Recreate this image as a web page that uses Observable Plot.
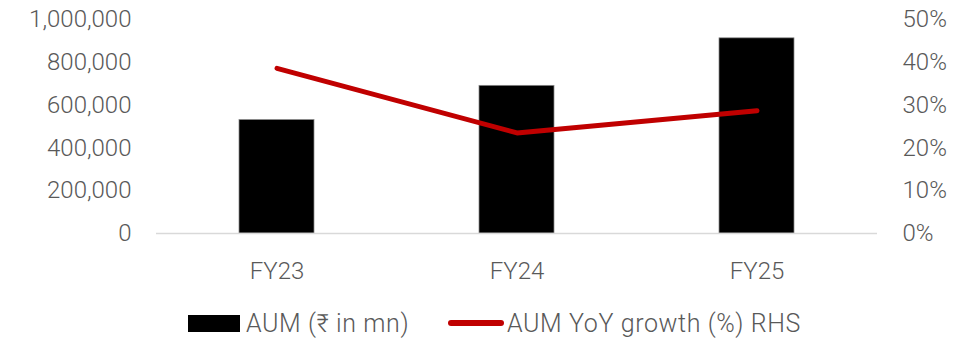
<!DOCTYPE html>
<html>
<head>
<meta charset="utf-8">
<script src="https://cdn.jsdelivr.net/npm/d3@7"></script>
<script src="https://cdn.jsdelivr.net/npm/@observablehq/plot@0.6"></script>
<style>
  html, body { margin: 0; padding: 0; background: #fff; }
  body { width: 977px; height: 339px; overflow: hidden; font-family: Roboto, sans-serif; font-weight: 300; color: #595959; }
  #legend { position: absolute; left: 0; top: 308px; width: 977px; height: 30px; font-size: 25px; letter-spacing: 0.6px; }
  .item { position: absolute; top: 0; display: flex; align-items: center; height: 30px; white-space: nowrap; }
  .sw-bar { width: 52px; height: 17px; background: #000; margin-right: 6px; }
  .sw-line { width: 56px; height: 6px; background: #C00000; border-radius: 3px; margin-right: 3px; }
</style>
</head>
<body>
<div id="chart"></div>
<div id="legend">
  <div class="item" style="left:188px"><span class="sw-bar"></span><span id="l1"></span></div>
  <div class="item" style="left:448px"><span class="sw-line"></span><span id="l2"></span></div>
</div>
<script>
const categories = ["FY23", "FY24", "FY25"];
const aum = [530000, 690000, 912000];
const growth = [38.6, 23.5, 28.7];
const leftTicks = [0, 200000, 400000, 600000, 800000, 1000000];
const rightTicks = [0, 10, 20, 30, 40, 50];
const seriesNames = ["AUM (₹ in mn)", "AUM YoY growth (%) RHS"];

const data = categories.map((c, i) => ({cat: c, aum: aum[i], growth: growth[i]}));
const ratio = 1000000 / 50; // right axis percent -> left axis units

document.getElementById("l1").textContent = seriesNames[0];
document.getElementById("l2").textContent = seriesNames[1];

const textColor = "#595959";
const chart = Plot.plot({
  width: 977,
  height: 300,
  marginTop: 19,
  marginBottom: 67,
  marginLeft: 156,
  marginRight: 100,
  style: {fontFamily: "Roboto, sans-serif", fontWeight: 300, fontSize: "24px", color: textColor, background: "#fff"},
  x: {domain: categories, paddingInner: 0.6875, paddingOuter: 0.344, label: null},
  y: {domain: [0, 1000000], label: null},
  marks: [
    Plot.axisY({anchor: "left", ticks: leftTicks, tickSize: 0, tickPadding: 25, tickFormat: d3.format(","), label: null, fill: textColor}),
    Plot.axisY({anchor: "right", ticks: rightTicks.map(t => t * ratio), tickSize: 0, tickPadding: 25, tickFormat: d => Math.round(d / ratio) + "%", label: null, fill: textColor, textAnchor: "start"}),
    Plot.axisX({tickSize: 0, tickPadding: 28, label: null, fill: textColor}),
    Plot.barY(data, {x: "cat", y: "aum", fill: "#000", stroke: "#888", strokeWidth: 0.75}),
    Plot.ruleY([0], {stroke: "#d9d9d9", strokeWidth: 1.5}),
    Plot.line(data, {x: "cat", y: d => d.growth * ratio, stroke: "#C00000", strokeWidth: 5, strokeLinecap: "round", strokeLinejoin: "round"})
  ]
});
document.getElementById("chart").appendChild(chart);
</script>
</body>
</html>
